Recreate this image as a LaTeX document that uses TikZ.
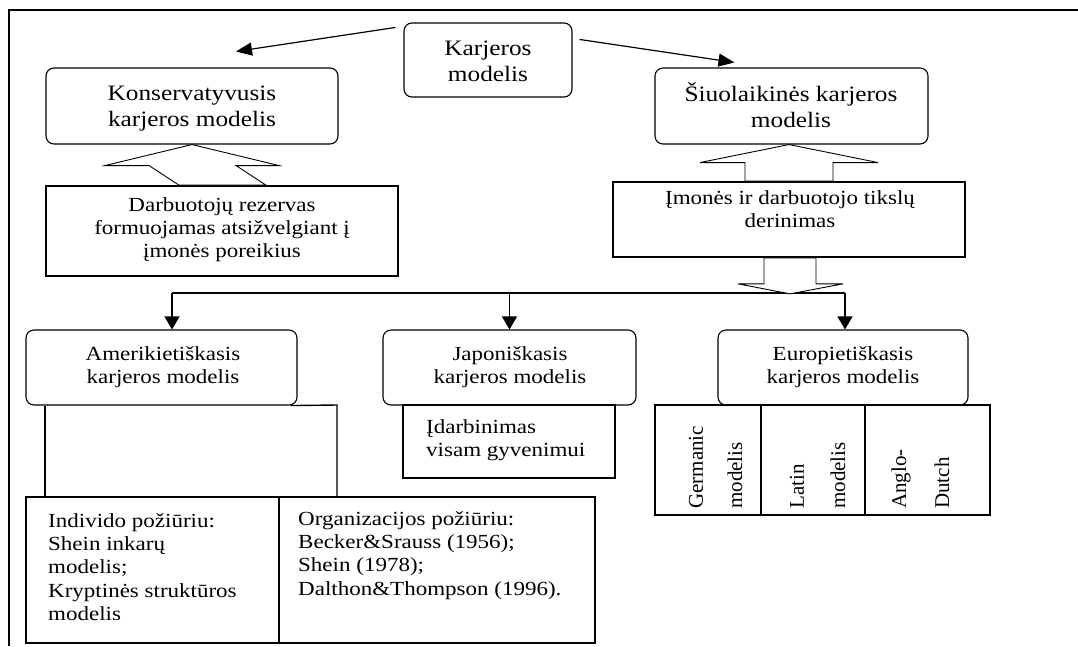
\documentclass[tikz,border=0pt]{standalone}
\usepackage{fontspec}
\setmainfont{Liberation Serif}
\newfontfamily\wideserif[FakeStretch=1.15]{Liberation Serif}
\usetikzlibrary{arrows.meta,calc}
\begin{document}
\begin{tikzpicture}[x=1pt,y=-1pt,
  rbox/.style={draw,rounded corners=8pt,line width=1.1pt,inner sep=0pt},
  sbox/.style={draw,line width=1.7pt,inner sep=0pt},
  bigtxt/.style={font=\wideserif\fontsize{22}{26}\selectfont,align=center,inner sep=0pt},
  txt/.style={font=\wideserif\fontsize{20}{23}\selectfont,align=center,inner sep=0pt},
  ltxt/.style={font=\wideserif\fontsize{20}{23.3}\selectfont,align=left,inner sep=0pt,anchor=west},
  vtxt/.style={font=\fontsize{21}{24}\selectfont,rotate=90,anchor=west,inner sep=0pt},
  arr/.style={line width=1.2pt,-{Triangle[length=16pt,width=13pt]}},
  darr/.style={line width=1.4pt,-{Triangle[length=13pt,width=15pt]}},
  hollow/.style={draw,line width=0.9pt,fill=white,line join=miter}]
\useasboundingbox (0,0) rectangle (1078,646);

% outer frame
\draw[line width=1.3pt] (9,646) -- (9,10) -- (1078,10);

% top level
\node[rbox,minimum width=168pt,minimum height=74pt] (karj) at (488,60) {};
\node[bigtxt] (karjt) at (488,61.5) {Karjeros\\modelis};

\node[rbox,minimum width=292pt,minimum height=76pt] (kons) at (192,106) {};
\node[bigtxt] (konst) at (192,108.5) {Konservatyvusis\\karjeros modelis};

\node[rbox,minimum width=273pt,minimum height=76pt] (siuo) at (791.5,106) {};
\node[bigtxt] (siuot) at (791,105.5) {Šiuolaikinės karjeros\\modelis};

\draw[arr] ($(karj.north west)+(-8,5)$) -- ($(kons.north)+(44,-16)$);
\draw[arr] ($(karj.north east)+(7,17)$) -- ($(siuo.north west)+(80,-5)$);

% second level
\node[sbox,minimum width=352pt,minimum height=90pt] (darb) at (222,231) {};
\node[txt] (darbt) at (222,230) {Darbuotojų rezervas\\formuojamas atsižvelgiant į\\įmonės poreikius};

\node[sbox,minimum width=352pt,minimum height=75pt] (imon) at (789,219.5) {};
\node[txt] (imont) at (790,209.5) {Įmonės ir darbuotojo tikslų\\derinimas};

% hollow block arrows pointing up
\draw[hollow] (kons.south) -- ($(kons.south)+(87,21)$) -- ($(kons.south)+(44,21)$)
  -- ($(darb.north)+(44,0)$) -- ($(darb.north)+(-43,0)$) -- ($(kons.south)+(-43,21)$)
  -- ($(kons.south)+(-87,21)$) -- cycle;
\draw[hollow] (imon.north |- siuo.south) -- ($(imon.north |- siuo.south)+(89,18)$)
  -- ($(imon.north |- siuo.south)+(44,18)$) -- ($(imon.north)+(44,0)$)
  -- ($(imon.north)+(-44,0)$) -- ($(imon.north |- siuo.south)+(-44,18)$)
  -- ($(imon.north |- siuo.south)+(-89,18)$) -- cycle;

% third level
\node[rbox,minimum width=271pt,minimum height=75pt] (amer) at (161.5,367.5) {};
\node[txt] (amert) at (163,367.5) {Amerikietiškasis\\karjeros modelis};

\node[rbox,minimum width=253pt,minimum height=75pt] (japo) at (509.5,367.5) {};
\node[txt] (japot) at (510,367.5) {Japoniškasis\\karjeros modelis};

\node[rbox,minimum width=250pt,minimum height=75pt] (euro) at (843,367.5) {};
\node[txt] (eurot) at (843,367.5) {Europietiškasis\\karjeros modelis};

% distribution line and arrows
\coordinate (hl) at (172,293);
\coordinate (hr) at (845,293);
\draw[line width=1.4pt] (hl) -- (hr);
\draw[darr] (hl) -- ($(amer.north)+(10.5,0)$);
\draw[darr] (japo.north |- hl) -- (japo.north);
\draw[darr] (hr) -- ($(euro.north)+(2,0)$);

% hollow block arrow pointing down
\draw[hollow] ($(imon.south)+(1,36)$) -- ($(imon.south)+(-51,26)$) -- ($(imon.south)+(-25,26)$)
  -- ($(imon.south)+(-25,0)$) -- ($(imon.south)+(27,0)$) -- ($(imon.south)+(27,26)$)
  -- ($(imon.south)+(54,26)$) -- cycle;

% Japanese sub-box
\node[sbox,minimum width=212pt,minimum height=73pt] (idarb) at (509,441.5) {};
\node[ltxt] (idarbt) at (426,440) {Įdarbinimas\\visam gyvenimui};

% European sub-boxes
\node[sbox,minimum width=106pt,minimum height=110pt] (ger) at (708,460) {};
\node[sbox,minimum width=104pt,minimum height=110pt] (lat) at (813,460) {};
\node[sbox,minimum width=125pt,minimum height=110pt] (ang) at (927.5,460) {};
\node[vtxt] (gert1) at (696,509) {Germanic};
\node[vtxt] (gert2) at (735,509) {modelis};
\node[vtxt] (latt1) at (797,509) {Latin};
\node[vtxt] (latt2) at (838,509) {modelis};
\node[vtxt] (angt1) at (901,509) {Anglo-};
\node[vtxt] (angt2) at (942,509) {Dutch};

% American sub-boxes
\node[sbox,minimum width=253pt,minimum height=146pt] (indiv) at (152.5,570) {};
\node[sbox,minimum width=316pt,minimum height=146pt] (org) at (437,570) {};
\node[ltxt] (indivt) at (48,567) {Individo požiūriu:\\Shein inkarų\\modelis;\\Kryptinės struktūros\\modelis};
\node[ltxt] (orgt) at (298,555.5) {Organizacijos požiūriu:\\Becker\&Srauss (1956);\\Shein (1978);\\Dalthon\&Thompson (1996).};

\draw[line width=1.4pt] (amer.south -| indiv.north west) ++(20,0) coordinate (al) -- (al |- indiv.north);
\draw[line width=1.4pt] ($(amer.south east)+(-7,0)$) -- (337,405) coordinate (ar) -- (ar |- org.north);
\end{tikzpicture}
\end{document}
